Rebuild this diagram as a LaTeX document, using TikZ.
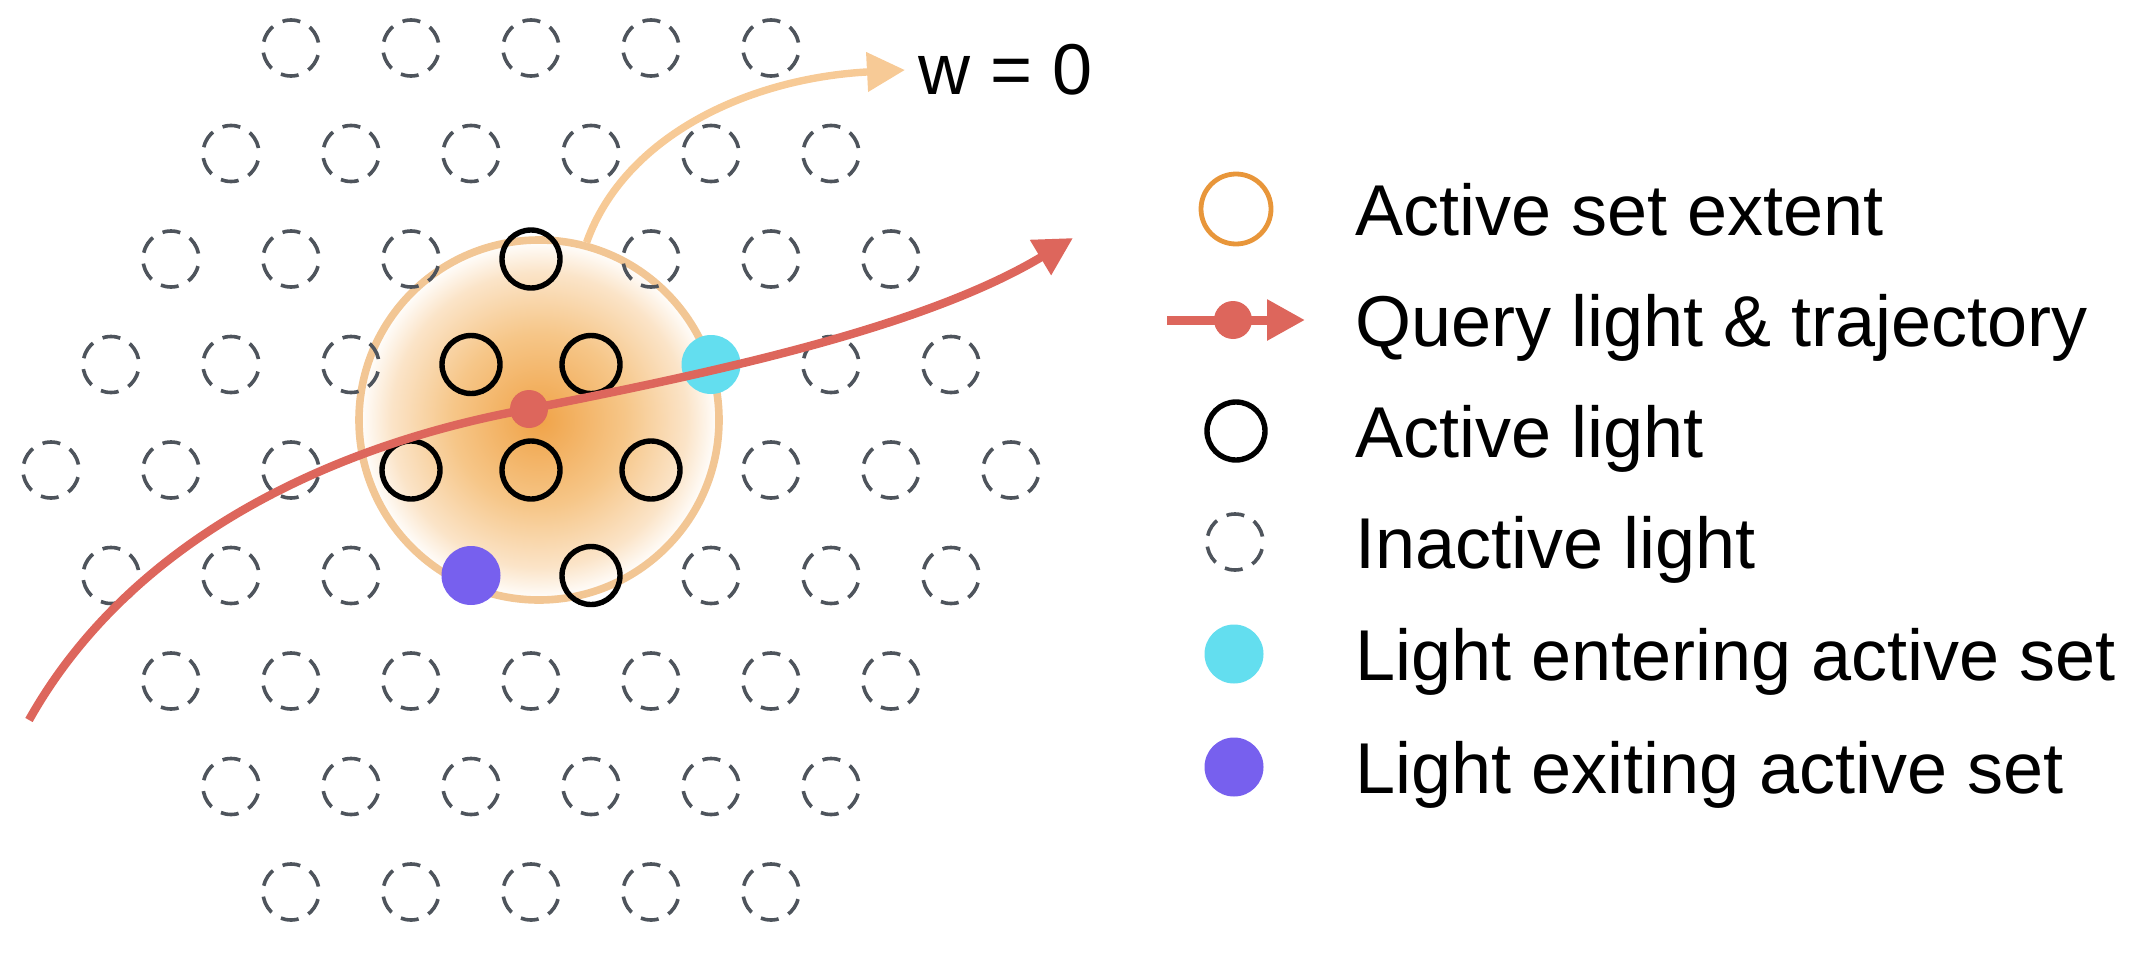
\documentclass[tikz,border=0pt]{standalone}
\usepackage{fontspec}
\setmainfont{Liberation Sans}
\usetikzlibrary{arrows.meta}
\definecolor{trajc}{RGB}{221,102,92}
\definecolor{extentc}{RGB}{242,198,148}
\definecolor{warrowc}{RGB}{247,202,150}
\definecolor{legorange}{RGB}{232,150,58}
\definecolor{cyanc}{RGB}{99,222,239}
\definecolor{purplec}{RGB}{119,96,238}
\definecolor{dashc}{RGB}{78,84,92}
\definecolor{ctrc}{RGB}{240,163,72}
\definecolor{midc}{RGB}{246,198,136}
\definecolor{edgec}{RGB}{251,228,200}
\pgfdeclareradialshading{extentshade}{\pgfpoint{0bp}{0bp}}{color(0bp)=(ctrc); color(12bp)=(midc); color(20.5bp)=(edgec); color(25bp)=(white); color(50bp)=(white)}
\begin{document}
\begin{tikzpicture}[x=1pt,y=-1pt,
  inactive/.style={circle, draw=dashc, line width=3.6pt, minimum size=56pt, inner sep=0pt, dash pattern=on 18pt off 11pt, dash phase=23.5pt},
  activelt/.style={circle, draw=black, line width=5.4pt, minimum size=58pt, inner sep=0pt},
  enterlt/.style={circle, fill=cyanc, minimum size=59pt, inner sep=0pt},
  exitlt/.style={circle, fill=purplec, minimum size=59pt, inner sep=0pt},
  qdot/.style={circle, fill=trajc, minimum size=38pt, inner sep=0pt},
  traj/.style={draw=trajc, line width=8.4pt, -{Triangle[length=38pt,width=39pt]}},
  warrow/.style={draw=warrowc, line width=7.4pt, -{Triangle[length=38pt,width=38pt]}},
  extent/.style={circle, draw=extentc, line width=7.6pt, minimum size=360pt, inner sep=0pt, shading=extentshade},
  legtext/.style={anchor=base west, inner sep=0pt, font=\fontsize{72}{86}\selectfont},
]
\useasboundingbox (0,0) rectangle (2144,958);

% active set extent
\node[extent] (ext) at (539,420) {};

% inactive lights (hex grid)
\foreach \r/\lst in {-4/{-4,-2,0,2,4}, -3/{-5,-3,-1,1,3,5}, -2/{-6,-4,-2,2,4,6}, -1/{-7,-5,-3,5,7}, 0/{-8,-6,-4,4,6,8}, 1/{-7,-5,-3,3,5,7}, 2/{-6,-4,-2,0,2,4,6}, 3/{-5,-3,-1,1,3,5}, 4/{-4,-2,0,2,4}}{
  \foreach \i in \lst {
    \node[inactive] (in\r m\i) at ({531+\i*60}, {470+\r*105.5}) {};
  }
}

% active lights
\node[activelt] (a1) at (531,259) {};
\node[activelt] (a2) at (471,364.5) {};
\node[activelt] (a3) at (591,364.5) {};
\node[activelt] (a4) at (411,470) {};
\node[activelt] (a5) at (531,470) {};
\node[activelt] (a6) at (651,470) {};
\node[activelt] (a7) at (591,575.5) {};

% entering / exiting
\node[enterlt] (enter) at (711,364.5) {};
\node[exitlt] (exit) at (471,575.5) {};

% w = 0 arrow
\coordinate (wend) at (905,70);
\draw[warrow] (ext.75) .. controls (625,135) and (750,78) .. (wend);
\node[anchor=base west, inner sep=0pt, font=\fontsize{72}{86}\selectfont] (wlabel) at (918,95) {w = 0};

% trajectory
\coordinate (ts) at (29,720);
\coordinate (qpos) at (529,409);
\coordinate (te) at (1073,238);
\draw[traj] (ts) .. controls (130,540) and (330,445) .. (qpos) .. controls (700,375) and (920,330) .. (te);
\node[qdot] (q) at (qpos) {};

% legend
\node[circle, draw=legorange, line width=4.8pt, minimum size=70pt, inner sep=0pt] (lg1) at (1236,209) {};
\node[legtext] (lt1) at (1355,235) {Active set extent};

\coordinate (lq1) at (1167,320);
\coordinate (lq2) at (1305,320);
\draw[draw=trajc, line width=9pt, -{Triangle[length=38pt,width=39pt]}] (lq1) -- (lq2);
\node[qdot] (lg2) at (1233,320) {};
\node[legtext] (lt2) at (1355,346) {Query light \& trajectory};

\node[activelt] (lg3) at (1236,431) {};
\node[legtext] (lt3) at (1355,457) {Active light};

\node[inactive] (lg4) at (1235,542) {};
\node[legtext] (lt4) at (1355,568) {Inactive light};

\node[enterlt] (lg5) at (1234,654) {};
\node[legtext] (lt5) at (1355,680) {Light entering active set};

\node[exitlt] (lg6) at (1234,767) {};
\node[legtext] (lt6) at (1355,793) {Light exiting active set};
\end{tikzpicture}
\end{document}
